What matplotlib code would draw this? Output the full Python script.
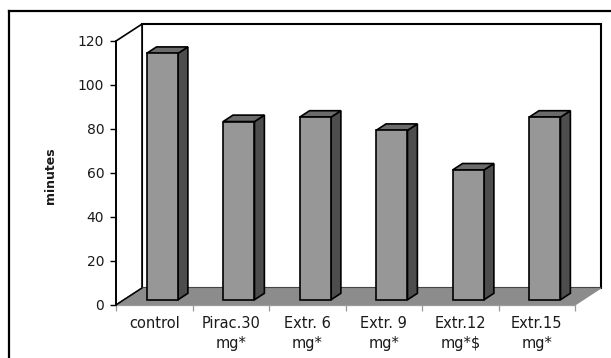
import matplotlib
matplotlib.use("Agg")
import matplotlib.pyplot as plt
from matplotlib.patches import Polygon
from matplotlib.lines import Line2D

# data
categories = ["control", "Pirac.30\nmg*", "Extr. 6\nmg*", "Extr. 9\nmg*", "Extr.12\nmg*$", "Extr.15\nmg*"]
minutes = [112, 81, 83, 77, 59, 83]
y_ticks = [0, 20, 40, 60, 80, 100, 120]

# pseudo-3D geometry (in data units of the front plane)
DEPTH_X = 0.34      # horizontal shift of the back plane, in categories
DEPTH_Y = 7.7       # vertical shift of the back plane, in minutes
BAR_W = 0.41
BAR_FRONT = 0.31    # fraction of depth where bar front face sits
BAR_BACK = 0.69
Y_MAX = 120

FLOOR = "#8c8c8c"
FACE = "#979797"
SIDE = "#4d4d4d"
TOP = "#6b6b6b"

plt.rcParams["font.family"] = ["DejaVu Sans"]

fig = plt.figure(figsize=(6.11, 3.58), dpi=100)
W, H = 611, 358
ax = fig.add_axes([116 / W, (H - 305) / H, 459 / W, 264 / H])
n = len(categories)
ax.set_xlim(0, n)
ax.set_ylim(0, Y_MAX)
ax.patch.set_visible(False)

def poly(pts, fc, z, ec="black", lw=1.2):
    p = Polygon(pts, closed=True, facecolor=fc, edgecolor=ec, linewidth=lw,
                clip_on=False, zorder=z, joinstyle="miter")
    ax.add_patch(p)

# walls and floor
dx, dy = DEPTH_X, DEPTH_Y
poly([(dx, dy), (n + dx, dy), (n + dx, Y_MAX + dy), (dx, Y_MAX + dy)], "white", 1, lw=1.5)
poly([(0, 0), (dx, dy), (dx, Y_MAX + dy), (0, Y_MAX)], "white", 1.1, lw=1.2)
poly([(0, 0), (n, 0), (n + dx, dy), (dx, dy)], FLOOR, 1.2, ec="#8c8c8c", lw=0.8)
ax.plot([0, dx], [0, dy], color="black", lw=1.0, clip_on=False, zorder=1.3)

# bars
for i, v in enumerate(minutes):
    c = i + 0.5
    fx, fy = BAR_FRONT * dx, BAR_FRONT * dy
    bx, by = BAR_BACK * dx, BAR_BACK * dy
    l, r = c - BAR_W / 2, c + BAR_W / 2
    z = 2 + i * 0.01
    poly([(r + fx, fy), (r + bx, by), (r + bx, v + by), (r + fx, v + fy)], SIDE, z)
    poly([(l + fx, v + fy), (r + fx, v + fy), (r + bx, v + by), (l + bx, v + by)], TOP, z)
    poly([(l + fx, fy), (r + fx, fy), (r + fx, v + fy), (l + fx, v + fy)], FACE, z + 0.001)

# axes styling
for s in ("top", "right", "bottom"):
    ax.spines[s].set_visible(False)
ax.spines["left"].set_color("black")
ax.spines["left"].set_linewidth(1.2)
ax.spines["left"].set_zorder(3)
ax.axhline(0, color="#9a9a9a", lw=0.9, clip_on=False, zorder=1.25)

ax.set_yticks(y_ticks)
ax.set_yticklabels([str(t) for t in y_ticks])
ax.tick_params(axis="y", length=4, width=1, color="black", pad=4.5,
               labelsize=10, labelcolor="#1a1a1a")

ax.set_xticks([i + 0.5 for i in range(n)])
ax.set_xticklabels(categories, linespacing=1.4)
ax.set_xticks(range(n + 1), minor=True)
ax.tick_params(axis="x", which="major", length=0, pad=8, labelsize=10.5, labelcolor="#1a1a1a")
ax.tick_params(axis="x", which="minor", length=4, width=0.9, color="#9a9a9a")

fig.text(50 / W, 1 - 176 / H, "minutes", rotation=90, ha="center", va="center",
         fontsize=9, fontweight="bold", color="#1a1a1a")

# outer frame
fig.add_artist(Line2D([9 / W, 9 / W], [0, 1 - 11 / H], transform=fig.transFigure,
                      color="black", lw=1.6))
fig.add_artist(Line2D([9 / W, 1], [1 - 11 / H, 1 - 11 / H], transform=fig.transFigure,
                      color="black", lw=1.6))

fig.savefig("out.png", dpi=100)
